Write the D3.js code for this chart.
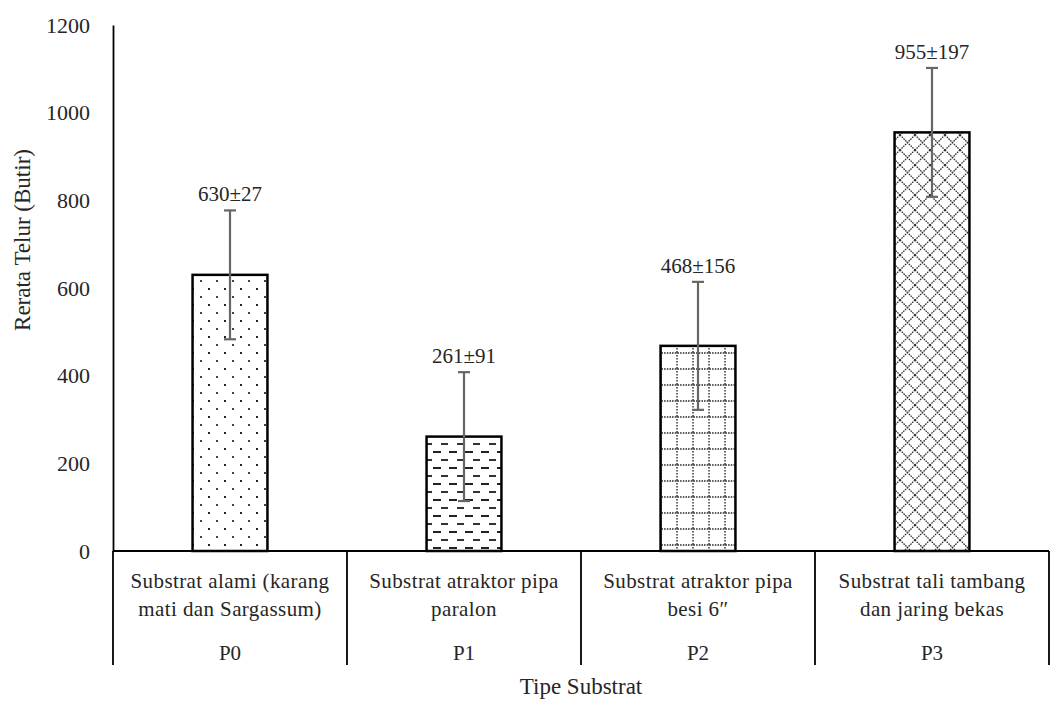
<!DOCTYPE html>
<html><head><meta charset="utf-8">
<script src="https://cdn.jsdelivr.net/npm/d3@7"></script>
<style>body{margin:0;background:#fff}svg{display:block}
svg text, #c text, text{font-family:"Liberation Serif",Tinos,"Times New Roman",serif !important}</style>
</head><body>
<svg id="c" width="1057" height="720"></svg>
<script>
const codes = ["P0","P1","P2","P3"];
const categoryLines = [
  ["Substrat alami (karang","mati dan Sargassum)"],
  ["Substrat atraktor pipa","paralon"],
  ["Substrat atraktor pipa","besi 6\u2033"],
  ["Substrat tali tambang","dan jaring bekas"]
];
const means = [630, 261, 468, 955];
const errors = [147, 147, 146, 147];
const valueLabels = ["630\u00b127","261\u00b191","468\u00b1156","955\u00b1197"];
const yTicks = [0,200,400,600,800,1000,1200];
const yTitle = "Rerata Telur (Butir)";
const xTitle = "Tipe Substrat";

const FONT = "Liberation Serif";
const TXT = "#262626";
const svg = d3.select("#c").style("font-family",FONT);
const L = 113, R = 1049, B = 551, T = 25;
const defs = svg.append("defs");
const patIds = ["pDots","pDash","pGrid","pDiamond"];
let p = defs.append("pattern").attr("id","pDots").attr("patternUnits","userSpaceOnUse").attr("width",16).attr("height",16);
p.append("rect").attr("x",0).attr("y",0).attr("width",2).attr("height",2).attr("fill","#222");
p.append("rect").attr("x",8).attr("y",8).attr("width",2).attr("height",2).attr("fill","#444");
p = defs.append("pattern").attr("id","pDash").attr("patternUnits","userSpaceOnUse").attr("width",16).attr("height",16);
p.append("rect").attr("x",1).attr("y",3).attr("width",8).attr("height",2).attr("fill","#222");
p.append("rect").attr("x",9).attr("y",11).attr("width",8).attr("height",2).attr("fill","#333");
p = defs.append("pattern").attr("id","pGrid").attr("patternUnits","userSpaceOnUse").attr("width",16).attr("height",16);
p.append("line").attr("x1",0).attr("y1",1).attr("x2",16).attr("y2",1).attr("stroke","#222").attr("stroke-width",1.5).attr("stroke-dasharray","1.5,1.2");
p.append("line").attr("x1",5).attr("y1",0).attr("x2",5).attr("y2",16).attr("stroke","#333").attr("stroke-width",1.5).attr("stroke-dasharray","1.5,1.5");
p = defs.append("pattern").attr("id","pDiamond").attr("patternUnits","userSpaceOnUse").attr("width",15).attr("height",15);
p.append("path").attr("d","M0,0L15,15M15,0L0,15").attr("stroke","#333").attr("stroke-width",1.3).attr("stroke-dasharray","1.6,0.9").attr("fill","none");

const xCat = d3.scaleBand().domain(codes).range([L,R]).padding(0);
const xBar = d3.scaleBand().domain(codes).range([L,R]).paddingInner(0.68).paddingOuter(0.34);
const y = d3.scaleLinear().domain([0,1200]).range([B,T]);

function txt(sel, size){ return sel.attr("font-family",FONT).style("font-family",FONT).attr("font-size",size).attr("fill",TXT); }

const yAxis = svg.append("g").attr("transform",`translate(${L},0)`)
  .call(d3.axisLeft(y).tickValues(yTicks).tickSize(0).tickPadding(23).tickFormat(d3.format("d")));
yAxis.attr("font-family",FONT);
yAxis.select(".domain").attr("stroke","#000").attr("stroke-width",1.8);
txt(yAxis.selectAll("text"),22);

svg.append("g").selectAll("rect").data(codes).join("rect")
  .attr("x",d=>xBar(d)).attr("width",xBar.bandwidth())
  .attr("y",(d,i)=>y(means[i])).attr("height",(d,i)=>B-y(means[i]))
  .attr("fill",(d,i)=>`url(#${patIds[i]})`).attr("stroke","#000").attr("stroke-width",2.5);

const eg = svg.append("g").attr("stroke","#666").attr("stroke-width",2.2);
codes.forEach((c,i)=>{
  const cx = xBar(c)+xBar.bandwidth()/2;
  eg.append("line").attr("x1",cx).attr("x2",cx).attr("y1",y(means[i]+errors[i])).attr("y2",y(means[i]-errors[i]));
  eg.append("line").attr("x1",cx-6).attr("x2",cx+6).attr("y1",y(means[i]+errors[i])).attr("y2",y(means[i]+errors[i]));
  eg.append("line").attr("x1",cx-6).attr("x2",cx+6).attr("y1",y(means[i]-errors[i])).attr("y2",y(means[i]-errors[i]));
  txt(svg.append("text"),21).attr("x",cx).attr("y",y(means[i]+errors[i])-9).attr("text-anchor","middle").text(valueLabels[i]);
});

svg.append("line").attr("x1",L).attr("x2",R).attr("y1",B).attr("y2",B).attr("stroke","#000").attr("stroke-width",1.8);
const divs = codes.map(c=>xCat(c)).concat([R]);
svg.append("g").selectAll("line").data(divs).join("line")
  .attr("x1",d=>d).attr("x2",d=>d).attr("y1",B).attr("y2",665).attr("stroke","#000").attr("stroke-width",1.8);

codes.forEach((c,i)=>{
  const cx = xCat(c)+xCat.bandwidth()/2;
  categoryLines[i].forEach((ln,j)=>{
    txt(svg.append("text"),21).attr("x",cx).attr("y",588+j*28).attr("text-anchor","middle").style("letter-spacing","0.4px").text(ln);
  });
  txt(svg.append("text"),21).attr("x",cx).attr("y",660).attr("text-anchor","middle").text(c);
});

txt(svg.append("text"),23).attr("x",(L+R)/2).attr("y",694).attr("text-anchor","middle").text(xTitle);
txt(svg.append("text"),23).attr("transform","translate(30,240) rotate(-90)").attr("text-anchor","middle").text(yTitle);
</script>
</body></html>
